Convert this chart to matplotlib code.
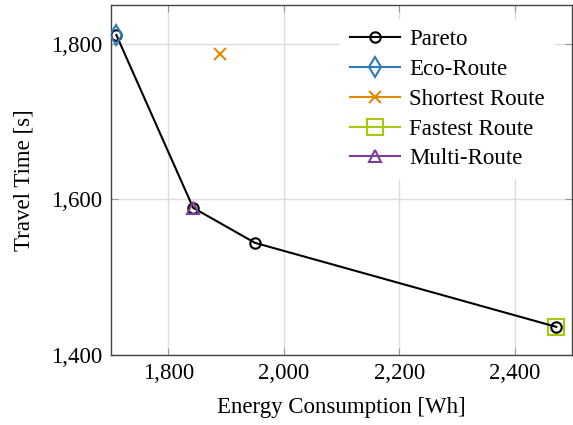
import matplotlib.pyplot as plt
import matplotlib.ticker as mticker

plt.rcParams['font.family'] = ['Liberation Serif', 'DejaVu Serif']

# Daten
pareto_energy = [1710, 1843, 1950, 2472]
pareto_time = [1811, 1589, 1544, 1436]
eco = (1710, 1811)
shortest = (1889, 1786)
fastest = (2472, 1436)
multi = (1843, 1589)

x_ticks = [1800, 2000, 2200, 2400]
y_ticks = [1400, 1600, 1800]

fig = plt.figure(figsize=(5.73, 4.25), dpi=100)
ax = fig.add_axes([0.193, 0.165, 0.806, 0.824])

ax.plot(pareto_energy, pareto_time, color='black', lw=1.5, marker='o', ms=7.5,
        mfc='none', mew=1.5, label='Pareto', zorder=3)
ax.plot(*eco, color='#2b7bba', marker='d', ms=10, mfc='none', mew=1.5,
        ls='-', label='Eco-Route', zorder=4)
ax.plot(*shortest, color='#e08b00', marker='x', ms=8, mew=1.5,
        ls='-', label='Shortest Route', zorder=4)
ax.plot(*fastest, color='#a6c80a', marker='s', ms=12, mfc='none', mew=1.5,
        ls='-', label='Fastest Route', zorder=2)
ax.plot(*multi, color='#7f3f98', marker='^', ms=8.5, mfc='none', mew=1.5,
        ls='-', label='Multi-Route', zorder=4)

ax.set_xlim(1700, 2500)
ax.set_ylim(1400, 1850)
ax.set_xticks(x_ticks)
ax.set_yticks(y_ticks)
fmt = mticker.FuncFormatter(lambda v, p: '{:,.0f}'.format(v))
ax.xaxis.set_major_formatter(fmt)
ax.yaxis.set_major_formatter(fmt)

ax.grid(True, color='#dddddd', lw=1)
ax.set_axisbelow(True)
ax.tick_params(direction='in', top=True, right=True, length=5, color='#999999',
               labelsize=16.5, pad=6)
for s in ax.spines.values():
    s.set_color('#444444')
    s.set_linewidth(1)

ax.set_xlabel('Energy Consumption [Wh]', fontsize=16.5, labelpad=9)
ax.set_ylabel('Travel Time [s]', fontsize=16.5, labelpad=12)

leg = ax.legend(loc='upper right', bbox_to_anchor=(0.96, 0.956), borderaxespad=0,
                fontsize=16.5, frameon=True, fancybox=False,
                edgecolor='white', framealpha=1, handlelength=2.2,
                labelspacing=0.38, handletextpad=0.4)

plt.savefig('out.png', dpi=100)
